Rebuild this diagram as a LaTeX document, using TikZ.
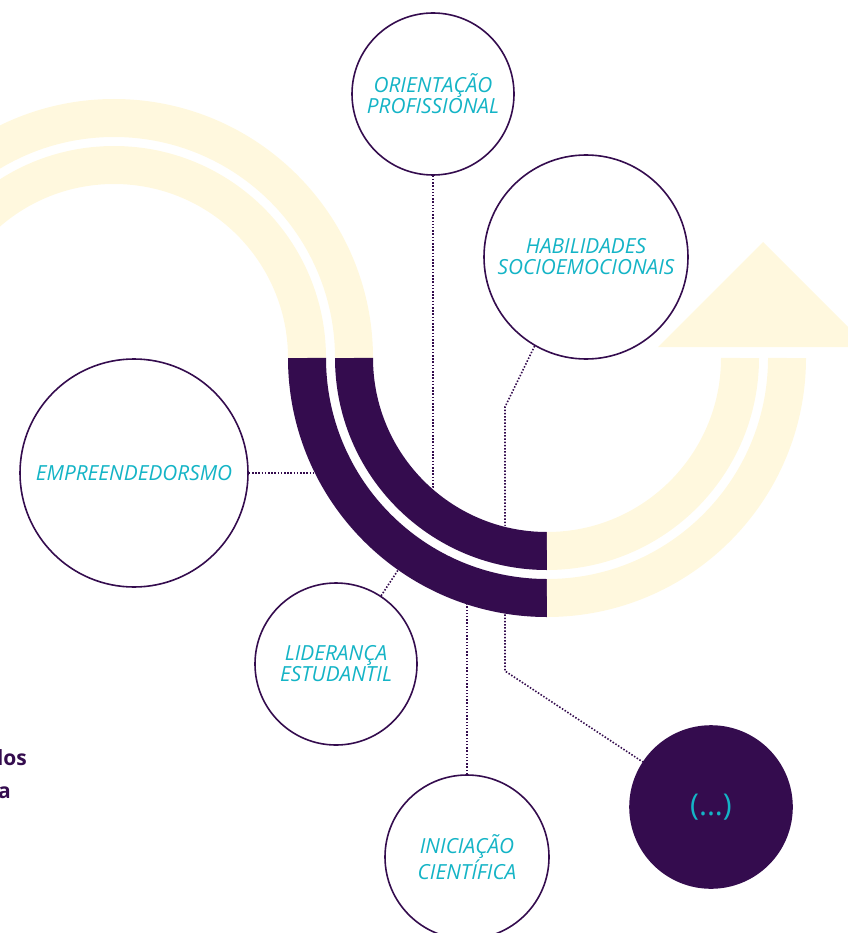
\documentclass[tikz,border=0pt]{standalone}
\usepackage{fontspec}
\newfontfamily\openfont{Open Sans}
\definecolor{plum}{HTML}{340C4E}
\definecolor{cream}{HTML}{FFF8DE}
\definecolor{labelcyan}{HTML}{14B4C6}
\pgfdeclarelayer{bg}
\pgfsetlayers{bg,main}
\tikzset{
  topic/.style={circle, draw=plum, line width=1.6pt, fill=white, inner sep=0pt,
    align=center, text=labelcyan, font=\openfont\itshape\fontsize{20.8}{21}\selectfont},
  link/.style={plum, line width=1.6pt, dash pattern=on 1.5pt off 1.7pt},
  band/.style={line width=38pt},
  pagetext/.style={anchor=base east, inner sep=0pt, text=plum,
    font=\openfont\bfseries\fontsize{21}{24}\selectfont}
}
\begin{document}
\begin{tikzpicture}[x=1pt,y=1pt]
  \useasboundingbox (0,0) rectangle (847,-933);
  \draw[white, line width=86pt] (331,-358) arc[start angle=180, end angle=270, radius=216];
  \draw[band, cream] (307,-358) arc[start angle=0, end angle=180, radius=193];
  \draw[band, cream] (354,-358) arc[start angle=0, end angle=180, radius=240];
  \draw[band, plum] (307,-358) arc[start angle=180, end angle=270, radius=240];
  \draw[band, plum] (354,-358) arc[start angle=180, end angle=270, radius=193];
  \draw[band, cream] (547,-598) arc[start angle=270, end angle=360, radius=240];
  \draw[band, cream] (547,-551) arc[start angle=270, end angle=360, radius=193];
  \fill[cream] (658,-347) -- (763,-242) -- (868,-347) -- cycle;

  \node[topic, minimum size=162pt] (ori) at (433,-94) {ORIENTAÇÃO\\PROFISSIONAL};
  \node[topic, minimum size=204pt] (hab) at (586,-257) {HABILIDADES\\SOCIOEMOCIONAIS};
  \node[topic, minimum size=228pt] (emp) at (134,-473) {EMPREENDEDORSMO};
  \node[topic, minimum size=162pt] (lid) at (336,-664) {LIDERANÇA\\ESTUDANTIL};
  \node[topic, minimum size=164pt] (ini) at (467,-857) {INICIAÇÃO\\CIENTÍFICA};
  \node[topic, minimum size=162pt, fill=plum,
    font=\openfont\fontsize{30}{32}\selectfont] (etc) at (711,-807) {(...)};

  \node[pagetext] (dos) at (27,-765) {dos};
  \node[pagetext] (a) at (11,-798) {a};

  \coordinate (oriend) at (433,-510);
  \coordinate (habbend) at (505,-407);
  \coordinate (habknee) at (505,-671);
  \coordinate (empend) at (330,-473);
  \coordinate (lidend) at (408,-555);
  \coordinate (iniend) at (467,-585);

  \begin{pgfonlayer}{bg}
    \draw[link] (ori) -- (oriend);
    \draw[link] (hab.240) -- (habbend) -- (habknee) -- (etc);
    \draw[link] (emp) -- (empend);
    \draw[link] (lid) -- (lidend);
    \draw[link] (ini) -- (iniend);
  \end{pgfonlayer}
\end{tikzpicture}
\end{document}
